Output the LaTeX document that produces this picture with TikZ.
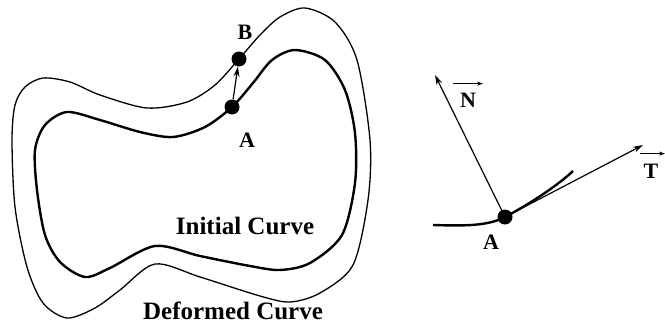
\documentclass[tikz,border=0pt]{standalone}
\usepackage{fontspec}
\setmainfont{Liberation Serif}
\usetikzlibrary{arrows.meta, positioning}

\begin{document}
\begin{tikzpicture}[
  x=1pt, y=-1pt,
  dot/.style={circle, fill=black, inner sep=0pt, minimum size=15pt},
  lbl/.style={font=\fontsize{22}{24}\selectfont\bfseries, inner sep=0pt},
  curvename/.style={font=\fontsize{25}{28}\selectfont\bfseries, inner sep=0pt},
  vec/.style={-{Stealth[length=10pt, width=6pt]}, line width=1.2pt},
  overvec/.style={-{Stealth[length=6pt, width=4pt]}, line width=0.8pt},
  initial/.style={line width=2.4pt},
  deformed/.style={line width=1.3pt}
]
\useasboundingbox (0,0) rectangle (665,324);

% deformed curve (outer)
\draw[deformed] plot[smooth cycle] coordinates {
  (239,59) (260,35) (280,17) (305,8) (335,22) (357,60) (370,140)
  (368,200) (353,265) (320,293) (290,302) (260,296) (200,277)
  (155,264) (120,290) (95,308) (67,318) (43,303) (27,267) (15,207)
  (12,140) (15,105) (25,87) (43,78) (70,82) (100,95) (147,108)
  (187,102) (215,85)};

% initial curve (inner)
\draw[initial] plot[smooth cycle] coordinates {
  (232,107) (253,83) (272,60) (295,50) (325,60) (345,90) (355,133)
  (355,183) (342,235) (310,263) (280,270) (250,266) (200,256)
  (155,246) (110,268) (85,277) (60,262) (45,235) (37,190) (35,150)
  (45,125) (67,112) (100,120) (140,132) (173,137) (205,127)};

\node[dot] (ptA) at (232,107) {};
\node[dot] (ptB) at (239,59) {};
\draw[vec] (ptA) -- (ptB);

\node[lbl] (labA) at (247,140) {A};
\node[lbl] (labB) at (245,32) {B};
\node[curvename] (initname) at (245,226) {Initial Curve};
\node[curvename] (defname) at (233,311) {Deformed Curve};

% local frame at A
\draw[initial] (433,225) .. controls (465,226) and (488,226) .. (505,217)
  .. controls (524,207) and (555,188) .. (573,171);
\node[dot] (ptR) at (505,217) {};
\coordinate (tipN) at (435,75);
\coordinate (tipT) at (643,145);
\draw[vec] (ptR.center) -- (tipN);
\draw[vec] (ptR.center) -- (tipT);

\node[lbl] (labR) at (491,242) {A};
\node[lbl] (labN) at (468,100) {N};
\node[lbl] (labT) at (651,171) {T};
\draw[overvec] ([shift={(-15pt,9pt)}]labN.north) -- ([shift={(15pt,9pt)}]labN.north);
\draw[overvec] ([shift={(-11pt,10pt)}]labT.north) -- ([shift={(14pt,10pt)}]labT.north);
\end{tikzpicture}
\end{document}
